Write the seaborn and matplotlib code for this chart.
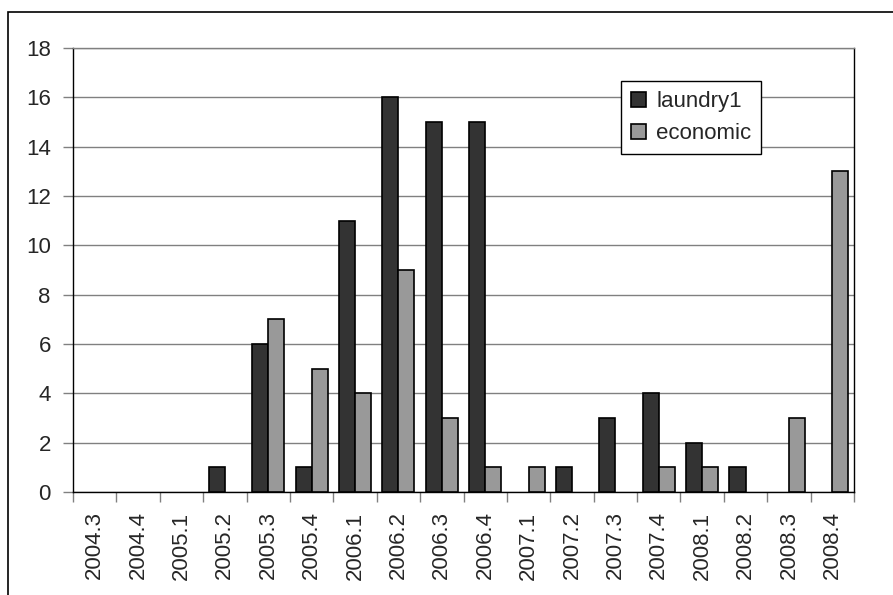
import matplotlib
matplotlib.use("Agg")
import matplotlib.pyplot as plt
import seaborn as sns
import pandas as pd
from matplotlib.patches import Rectangle, Patch
from matplotlib.ticker import MultipleLocator, FixedLocator

quarters = ["2004.3", "2004.4", "2005.1", "2005.2", "2005.3", "2005.4",
            "2006.1", "2006.2", "2006.3", "2006.4", "2007.1", "2007.2",
            "2007.3", "2007.4", "2008.1", "2008.2", "2008.3", "2008.4"]
laundry1 = [0, 0, 0, 1, 6, 1, 11, 16, 15, 15, 0, 1, 3, 4, 2, 1, 0, 0]
economic = [0, 0, 0, 0, 7, 5, 4, 9, 3, 1, 1, 0, 0, 1, 1, 0, 3, 13]
series_names = ["laundry1", "economic"]
series_colors = ["#333333", "#999999"]

df = pd.DataFrame({
    "quarter": quarters * 2,
    "count": laundry1 + economic,
    "series": [series_names[0]] * len(quarters) + [series_names[1]] * len(quarters),
})

sns.set_theme(style="white")
plt.rcParams["font.family"] = ["Liberation Sans", "DejaVu Sans"]
FS = 16

W, H = 893, 595
fig = plt.figure(figsize=(W / 100, H / 100), dpi=100)
fig.patch.set_facecolor("white")

# outer chart frame (only top and left edges fall inside the image)
fig.add_artist(Rectangle((8 / W, -0.2), 1.2, 1.2 - 12 / H,
                         transform=fig.transFigure, fill=False,
                         edgecolor="black", linewidth=1.2))

ax = fig.add_axes([73 / W, 1 - 492 / H, (854 - 73) / W, (492 - 48) / H])
sns.barplot(data=df, x="quarter", y="count", hue="series",
            palette=series_colors, width=0.74, gap=0, saturation=1,
            edgecolor="black", linewidth=1.2, ax=ax, zorder=3, legend=False)

# empty quarters get no outline
for patch in ax.patches:
    if patch.get_height() == 0:
        patch.set_visible(False)

ax.set_xlim(-0.5, len(quarters) - 0.5)
ax.set_ylim(0, 18)
ax.yaxis.set_major_locator(MultipleLocator(2))
ax.set_axisbelow(True)
ax.grid(axis="y", color="#808080", linewidth=1)
ax.grid(axis="x", visible=False)

ax.set_xlabel("")
ax.set_ylabel("")
ax.set_xticks(range(len(quarters)))
ax.set_xticklabels(quarters, rotation=90, fontsize=FS)
ax.xaxis.set_minor_locator(FixedLocator([i - 0.5 for i in range(len(quarters) + 1)]))
ax.tick_params(axis="x", which="major", length=0, pad=14)
ax.tick_params(axis="x", which="minor", bottom=True, length=7, width=1, color="#808080")
ax.tick_params(axis="y", which="major", left=True, length=7, width=1, color="#808080",
               labelsize=FS, pad=9)

for side in ["left", "bottom", "right"]:
    ax.spines[side].set_color("black")
    ax.spines[side].set_linewidth(1)
ax.spines["top"].set_color("#808080")
ax.spines["top"].set_linewidth(1)

handles = [Patch(facecolor=c, edgecolor="black", linewidth=1.2) for c in series_colors]
leg = ax.legend(handles, series_names, loc="upper left",
                bbox_to_anchor=(621 / W, 1 - 81 / H), bbox_transform=fig.transFigure,
                frameon=True, fancybox=False, shadow=False, edgecolor="black",
                framealpha=1, fontsize=FS, handlelength=0.68, handleheight=0.68,
                handletextpad=0.45, labelspacing=0.5, borderpad=0.45, borderaxespad=0)
leg.get_frame().set_linewidth(1)

fig.savefig("out.png", dpi=100)
